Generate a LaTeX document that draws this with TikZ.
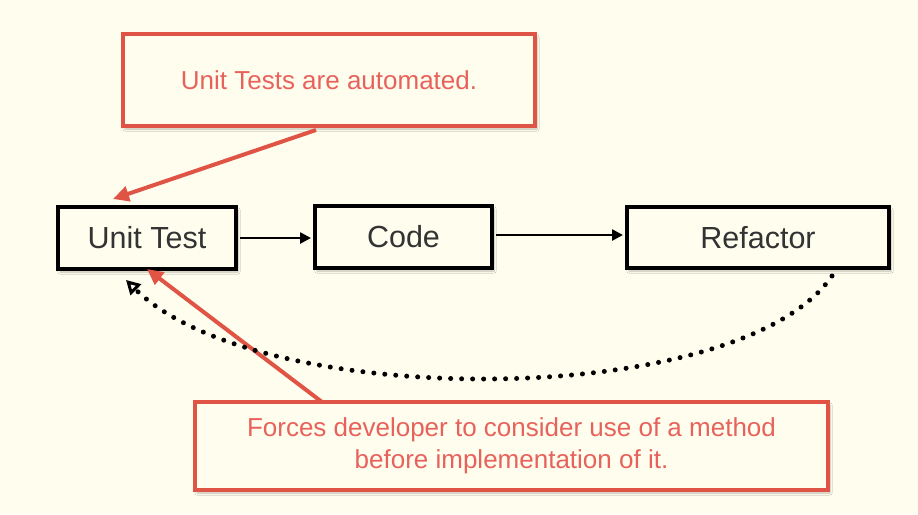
\documentclass[tikz,border=0pt]{standalone}
\usepackage{fontspec}
\setmainfont{Liberation Sans}
\usetikzlibrary{arrows.meta,shadows.blur,calc}
\definecolor{bg}{RGB}{254,253,238}
\definecolor{redline}{RGB}{224,84,70}
\definecolor{redtext}{RGB}{232,98,92}
\tikzset{
  stepbox/.style={draw=black, line width=4pt, fill=bg, inner sep=0pt,
    blur shadow={shadow xshift=2pt, shadow yshift=-3pt, shadow blur steps=6, shadow opacity=25},
    font=\fontsize{30.5}{36}\selectfont, text=black!80},
  notebox/.style={draw=redline, line width=4pt, fill=bg, inner sep=0pt, align=center,
    blur shadow={shadow xshift=2pt, shadow yshift=-3pt, shadow blur steps=6, shadow opacity=25},
    font=\fontsize{26}{32}\selectfont, text=redtext},
  flow/.style={draw=black, line width=2.5pt, -{Triangle[length=11pt,width=11pt]}},
  redarrow/.style={draw=redline, line width=4pt, -{Triangle[length=16pt,width=15pt]}},
  loopback/.style={draw=black, line width=5pt, line cap=round, dash pattern=on 0pt off 11pt,
    -{Triangle[open,length=14pt,width=15pt,line width=3pt]}}
}
\begin{document}
\begin{tikzpicture}[x=1pt,y=-1pt]
\fill[bg] (0,0) rectangle (918,514);
\useasboundingbox (0,0) rectangle (918,514);
\node[notebox, minimum width=412pt, minimum height=92pt] (top) at (329,80) {Unit Tests are automated.};
\node[stepbox, minimum width=178pt, minimum height=62pt] (ut) at (147,238) {Unit Test};
\node[stepbox, minimum width=177pt, minimum height=62pt] (code) at (403.5,237) {Code};
\node[stepbox, minimum width=262pt, minimum height=61pt] (ref) at (758,237.5) {Refactor};
\node[notebox, minimum width=633pt, minimum height=88pt] (bot) at (511.5,446) {Forces developer to consider use of a method\\before implementation of it.};
\draw[flow] ($(ut.east)+(2,0)$) -- ($(ut.east -| code.west)+(-2,0)$);
\draw[flow] ($(code.east)+(2,-2)$) -- ($(code.east -| ref.west)+(-2,-2)$);
\coordinate (r1) at (316,130);
\coordinate (r1e) at (113,199);
\draw[redarrow] (r1) -- (r1e);
\coordinate (r2) at (322,402);
\coordinate (r2e) at (147,269);
\draw[redarrow] (r2) -- (r2e);
\coordinate (l1) at (832,276);
\coordinate (l1e) at (126,280);
\draw[loopback] (l1) .. controls (740,410) and (260,412) .. (l1e);
\end{tikzpicture}
\end{document}
